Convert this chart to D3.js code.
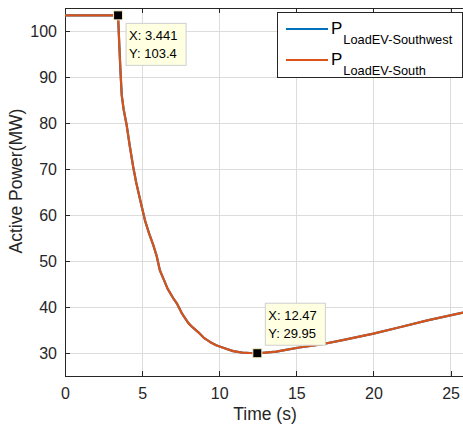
<!DOCTYPE html>
<html><head><meta charset="utf-8">
<script src="https://cdn.jsdelivr.net/npm/d3@7"></script>
<style>
body{margin:0;background:#fff;}
text{font-family:"Liberation Sans",Arial,sans-serif;}
</style></head>
<body><svg id="c" width="463" height="433"></svg>
<script>
const time = [0, 3.441, 3.52, 3.6, 3.68, 3.8, 4.0, 4.2, 4.42, 4.62, 4.86, 5.18, 5.45, 5.72, 5.95, 6.15, 6.4, 6.65, 7.0, 7.25, 7.6, 8.0, 8.3, 8.65, 9.0, 9.4, 9.8, 10.3, 10.9, 11.5, 12.0, 12.47, 13.0, 13.7, 14.5, 15.2, 16.5, 18, 20, 21.7, 23.5, 25.8, 26];
const southwest = [103.4, 103.4, 97, 91, 86, 83, 79.5, 75, 70.5, 67, 63.5, 58.9, 56, 53.5, 51, 48, 46, 44, 42, 40.8, 38.5, 36.5, 35.5, 34.5, 33.3, 32.4, 31.7, 31.1, 30.4, 30.1, 30.0, 29.95, 30.1, 30.3, 30.8, 31.2, 31.8, 32.8, 34.2, 35.6, 37.1, 38.8, 39.0];
const south = [103.4, 103.4, 97, 91, 86, 83, 79.5, 75, 70.5, 67, 63.5, 58.9, 56, 53.5, 51, 48, 46, 44, 42, 40.8, 38.5, 36.5, 35.5, 34.5, 33.3, 32.4, 31.7, 31.1, 30.4, 30.1, 30.0, 29.95, 30.1, 30.3, 30.8, 31.2, 31.8, 32.8, 34.2, 35.6, 37.1, 38.8, 39.0];
const xTicks = [0, 5, 10, 15, 20, 25];
const yTicks = [30, 40, 50, 60, 70, 80, 90, 100];
const seriesNames = ["LoadEV-Southwest", "LoadEV-South"];
const seriesColors = ["#0072BD", "#D95319"];
const tips = [{x: 3.441, y: 103.4, xl: "3.441", yl: "103.4", pos: "below"}, {x: 12.47, y: 29.95, xl: "12.47", yl: "29.95", pos: "above"}];

const svg = d3.select("#c");
const L = 65, T = 8, B = 376, R = 466;
const x = d3.scaleLinear().domain([0, 26]).range([L, R]);
const y = d3.scaleLinear().domain([25, 105]).range([B, T]);
const axisCol = "#262626";

svg.append("defs").append("clipPath").attr("id","clip").append("rect")
  .attr("x", L).attr("y", T).attr("width", R - L).attr("height", B - T);

// grid
const g = svg.append("g");
g.selectAll(".gx").data(xTicks).join("line")
  .attr("x1", d => x(d)).attr("x2", d => x(d)).attr("y1", T).attr("y2", B)
  .attr("stroke", "#dcdcdc").attr("stroke-width", 1).attr("shape-rendering","crispEdges");
g.selectAll(".gy").data(yTicks).join("line")
  .attr("x1", L).attr("x2", R).attr("y1", d => y(d)).attr("y2", d => y(d))
  .attr("stroke", "#dcdcdc").attr("stroke-width", 1).attr("shape-rendering","crispEdges");

// axes
const xAxis = d3.axisBottom(x).tickValues(xTicks).tickSizeInner(-5).tickSizeOuter(0).tickPadding(12);
const yAxis = d3.axisLeft(y).tickValues(yTicks).tickSizeInner(-5).tickSizeOuter(0).tickPadding(8);
const xa = svg.append("g").attr("transform", `translate(0,${B})`).call(xAxis);
const ya = svg.append("g").attr("transform", `translate(${L},0)`).call(yAxis);
const xt = svg.append("g").attr("transform", `translate(0,${T})`).call(d3.axisTop(x).tickValues(xTicks).tickSizeInner(-5).tickSizeOuter(0).tickFormat(""));
[xa, ya, xt].forEach(a => {
  a.select(".domain").remove();
  a.selectAll("line").attr("stroke", axisCol).attr("shape-rendering","crispEdges");
  a.selectAll("text").attr("fill", axisCol).style("font-size", "16px").style("font-family", '"Liberation Sans",Arial,sans-serif');
});
svg.append("line").attr("x1", L).attr("x2", R).attr("y1", B+0.5).attr("y2", B+0.5).attr("stroke", axisCol);
svg.append("line").attr("x1", L).attr("x2", R).attr("y1", T+0.5).attr("y2", T+0.5).attr("stroke", axisCol);
svg.append("line").attr("x1", L+0.5).attr("x2", L+0.5).attr("y1", T).attr("y2", B+0.5).attr("stroke", axisCol);

// labels
svg.append("text").attr("x", 265).attr("y", 420).attr("text-anchor", "middle")
  .attr("fill", axisCol).style("font-size", "17.5px").text("Time (s)");
svg.append("text").attr("transform", `translate(22,181) rotate(-90)`).attr("text-anchor", "middle")
  .attr("fill", axisCol).style("font-size", "17.5px").text("Active Power(MW)");

// lines
const line = d3.line().x((d, i) => x(time[i])).y(d => y(d));
[southwest, south].forEach((s, k) => {
  svg.append("path").datum(s).attr("d", line).attr("fill", "none")
    .attr("stroke", seriesColors[k]).attr("stroke-width", 2.2).attr("clip-path", "url(#clip)")
    .attr("stroke-linejoin", "round");
});

// data tips
tips.forEach(t => {
  const px = x(t.x), py = y(t.y);
  svg.append("rect").attr("x", px - 4.5).attr("y", py - 4.5).attr("width", 9).attr("height", 9)
    .attr("fill", "#000").attr("stroke", "#f4f0c8").attr("stroke-width", 1);
  const bx = px + 8, by = t.pos === "below" ? py + 8 : py - 50;
  svg.append("rect").attr("x", bx).attr("y", by).attr("width", 60).attr("height", 42)
    .attr("fill", "#ffffe1").attr("stroke", "#cfcfcf").attr("stroke-width", 1);
  svg.append("text").attr("x", bx + 3).attr("y", by + 17).style("font-size", "13px").attr("fill", "#000").text("X: " + t.xl);
  svg.append("text").attr("x", bx + 3).attr("y", by + 35).style("font-size", "13px").attr("fill", "#000").text("Y: " + t.yl);
});

// legend
const lg = svg.append("g");
lg.append("rect").attr("x", 277.5).attr("y", 12.5).attr("width", 185).attr("height", 65)
  .attr("fill", "#fff").attr("stroke", axisCol).attr("stroke-width", 1);
seriesNames.forEach((n, i) => {
  const ly = 29 + i * 31;
  lg.append("line").attr("x1", 286).attr("x2", 328).attr("y1", ly).attr("y2", ly)
    .attr("stroke", seriesColors[i]).attr("stroke-width", 2.2);
  const tx = lg.append("text").attr("x", 331).attr("y", ly + 5).attr("fill", "#000").style("font-size", "17px");
  tx.append("tspan").text("P");
  tx.append("tspan").attr("dy", 10).attr("dx", 1).style("font-size", "12.8px").text(n);
});
</script></body></html>
